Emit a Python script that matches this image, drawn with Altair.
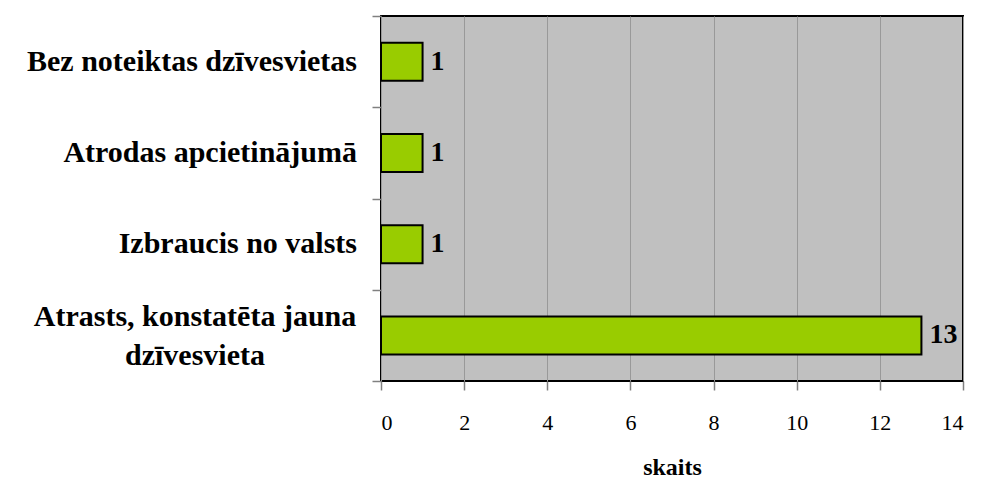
import altair as alt
import pandas as pd

categories = [
    "Bez noteiktas dzīvesvietas",
    "Atrodas apcietinājumā",
    "Izbraucis no valsts",
    "Atrasts, konstatēta jauna\ndzīvesvieta",
]
values = [1, 1, 1, 13]
multiline = [False, False, False, True]

df = pd.DataFrame({"cat": categories, "val": values, "multi": multiline})
df["lab"] = df["val"].astype(str)

FONT = "Liberation Serif"

y_enc = alt.Y(
    "cat:N",
    sort=None,
    scale=alt.Scale(paddingInner=0, paddingOuter=0),
    axis=alt.Axis(
        title=None,
        tickBand="extent",
        tickSize=9,
        tickColor="#808080",
        tickWidth=1.5,
        domain=False,
        labels=False,
    ),
)

base = alt.Chart(df).encode(y=y_enc)

bars = base.mark_bar(color="#99CC00", stroke="black", strokeWidth=2, size=38).encode(
    x=alt.X(
        "val:Q",
        scale=alt.Scale(domain=[0, 14]),
        axis=alt.Axis(
            title="skaits",
            orient="bottom",
            values=list(range(0, 15, 2)),
            tickSize=9,
            tickColor="#808080",
            tickWidth=1.5,
            domain=False,
            grid=True,
            gridColor="#999999",
            gridWidth=1,
            labelFont=FONT,
            labelFontSize=22,
            labelColor="black",
            labelPadding=22,
            titleFont=FONT,
            titleFontSize=24,
            titleFontWeight="bold",
            titleColor="black",
            titlePadding=22,
        ),
    )
)

texts = base.mark_text(
    align="left", baseline="middle", dx=8, font=FONT, fontSize=28, fontWeight="bold", color="black"
).encode(x="val:Q", text="lab:N")

cat_single = base.transform_filter("!datum.multi").mark_text(
    align="right", baseline="middle", font=FONT, fontSize=30, fontWeight="bold", color="black"
).encode(x=alt.value(-24), text="cat:N")

cat_multi = base.transform_filter("datum.multi").mark_text(
    align="center", baseline="middle", font=FONT, fontSize=30, fontWeight="bold",
    color="black", lineBreak="\n", lineHeight=39, dy=-18
).encode(x=alt.value(-186), text="cat:N")

chart = (
    alt.layer(bars, texts, cat_single, cat_multi)
    .properties(width=582, height=365, padding={"left": 373, "top": 8, "right": 10, "bottom": 100})
    .configure(autosize=alt.AutoSizeParams(type="none"), font=FONT)
    .configure_view(fill="#C0C0C0", stroke="black", strokeWidth=2)
)

chart.save("out.html", embed_options={"renderer": "svg", "actions": False})
